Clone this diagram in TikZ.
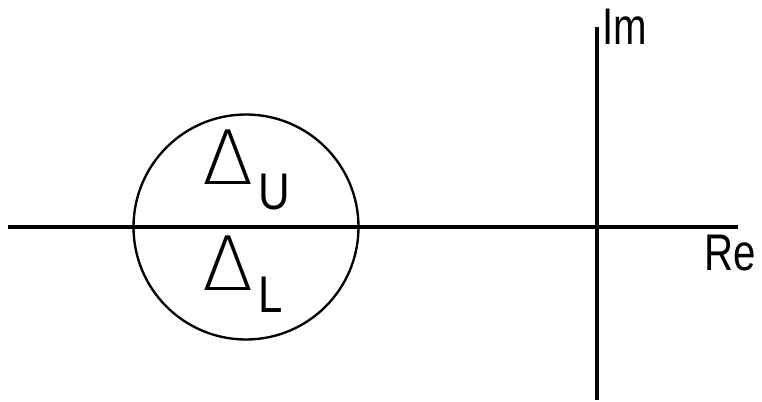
\documentclass[tikz,border=0pt]{standalone}
\usepackage{fontspec}
\setmainfont{Liberation Sans}
\newfontfamily\deltafont{DejaVu Sans ExtraLight}
\tikzset{
    axis/.style={line width=3.8pt},
    lbl/.style={inner sep=0pt, font=\fontsize{44}{44}\selectfont},
}
\begin{document}
\begin{tikzpicture}[x=0.03cm, y=-0.03cm]
        \useasboundingbox (0,0) rectangle (762,402);
        % axes
        \coordinate (reL) at (8,227);
        \coordinate (reR) at (738,227);
        \coordinate (imT) at (597,27);
        \coordinate (imB) at (597,400);
        \draw[axis] (reL) -- (reR);
        \draw[axis] (imT) -- (imB);
        \node[lbl, anchor=base west] (im) at (602,45) {\scalebox{0.78}[1]{Im}};
        \node[lbl, anchor=base west] (re) at (704,271) {\scalebox{0.78}[1]{Re}};

        % disc split by the real axis
        \node[draw, circle, line width=2pt, minimum size=225*0.03cm, inner sep=0pt] (disc) at (246,227) {};
        \node[lbl, anchor=base west] (du) at (202,185)
            {{\deltafont\fontsize{64}{64}\selectfont Δ}\kern4pt\raisebox{-20.5pt}{\scalebox{0.85}[1]{U}}};
        \node[lbl, anchor=base west] (dl) at (202,291)
            {{\deltafont\fontsize{64}{64}\selectfont Δ}\kern4pt\raisebox{-18.5pt}{\scalebox{0.85}[1]{L}}};
    \end{tikzpicture}
\end{document}
